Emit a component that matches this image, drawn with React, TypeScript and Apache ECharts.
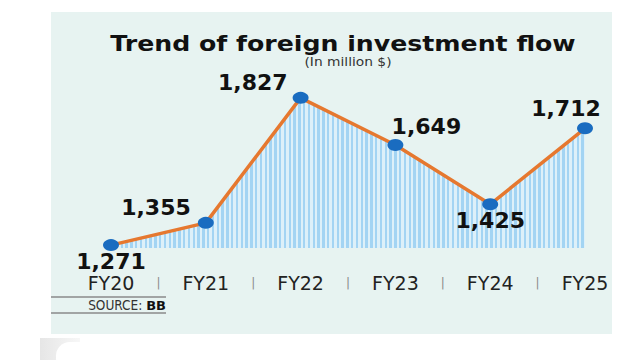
import React, { useEffect, useRef } from "react";
import * as echarts from "echarts";

const categories = ["FY20", "FY21", "FY22", "FY23", "FY24", "FY25"];
const values = [1271, 1355, 1827, 1649, 1425, 1712];
const valueLabels = ["1,271", "1,355", "1,827", "1,649", "1,425", "1,712"];

const GRID_LEFT = 111;
const GRID_RIGHT = 55;
const GRID_TOP = 52;
const GRID_BOTTOM = 112;
const Y_MIN = 1260;
const Y_MAX = 2000;

function stripeGradient() {
  const x0 = GRID_LEFT;
  const x1 = 640 - GRID_RIGHT;
  const period = 4.8;
  const w = x1 - x0;
  const stops: { offset: number; color: string }[] = [];
  const dark = "#a3d4f3";
  const light = "#ddf0f9";
  for (let x = 0; x < w; x += period) {
    const a = x / w;
    const b = Math.min((x + period / 2) / w, 1);
    const c = Math.min((x + period) / w, 1);
    stops.push({ offset: a, color: dark });
    stops.push({ offset: b, color: dark });
    stops.push({ offset: b, color: light });
    stops.push({ offset: c, color: light });
  }
  return new echarts.graphic.LinearGradient(x0, 0, x1, 0, stops, true);
}

const labelPlacement: { position: string; offset: number[] }[] = [
  { position: "bottom", offset: [0, -4] },
  { position: "left", offset: [-2, -15] },
  { position: "left", offset: [0, -15] },
  { position: "top", offset: [31, 2] },
  { position: "bottom", offset: [0, -4] },
  { position: "top", offset: [-19, 1] },
];

export default function App() {
  const ref = useRef<HTMLDivElement>(null);
  useEffect(() => {
    if (!ref.current) return;
    const chart = echarts.init(ref.current, null, { renderer: "svg" });
    const step = (640 - GRID_RIGHT - GRID_LEFT) / (categories.length - 1);
    const separators = categories.slice(0, -1).map((_, i) => ({
      type: "text",
      x: GRID_LEFT + step * (i + 0.5),
      y: 283,
      style: {
        text: "|",
        fill: "#8a8a8a",
        fontSize: 12,
        fontFamily: "DejaVu Sans",
        align: "center",
        verticalAlign: "middle",
      },
      z: 10,
    }));
    chart.setOption({
      animation: false,
      backgroundColor: "#ffffff",
      graphic: [
        {
          type: "rect",
          shape: { x: 51, y: 12, width: 561, height: 322 },
          style: { fill: "#e7f3f1" },
          z: -10,
        },
        {
          type: "rect",
          shape: { x: 40, y: 338, width: 40, height: 22 },
          style: {
            fill: new echarts.graphic.LinearGradient(0, 0, 1, 0, [
              { offset: 0, color: "#e6e6e6" },
              { offset: 1, color: "#f7f7f7" },
            ]),
          },
          z: -10,
        },
        {
          type: "rect",
          shape: { x: 56, y: 342, width: 300, height: 30, r: 14 },
          style: { fill: "#ffffff" },
          z: -9,
        },
        {
          type: "text",
          x: 343,
          y: 43,
          scaleX: 1.2,
          style: {
            text: "Trend of foreign investment flow",
            fill: "#111111",
            fontSize: 21,
            fontWeight: "bold",
            fontFamily: "DejaVu Sans",
            align: "center",
            verticalAlign: "middle",
          },
        },
        {
          type: "text",
          x: 348,
          y: 62,
          scaleX: 1.15,
          style: {
            text: "(In million $)",
            fill: "#333333",
            fontSize: 12,
            fontFamily: "DejaVu Sans",
            align: "center",
            verticalAlign: "middle",
          },
        },
        ...separators,
        {
          type: "line",
          shape: { x1: 51, y1: 297, x2: 166, y2: 297 },
          style: { stroke: "#8a8a8a", lineWidth: 1.5 },
        },
        {
          type: "line",
          shape: { x1: 51, y1: 313, x2: 166, y2: 313 },
          style: { stroke: "#8a8a8a", lineWidth: 1.5 },
        },
        {
          type: "text",
          x: 166,
          y: 305,
          style: {
            text: "{a|SOURCE: }{b|BB}",
            align: "right",
            verticalAlign: "middle",
            rich: {
              a: {
                fontSize: 13.5,
                fill: "#333333",
                fontFamily: "Liberation Sans Narrow, DejaVu Sans Condensed, sans-serif",
              },
              b: {
                fontSize: 13,
                fontWeight: "bold",
                fill: "#111111",
                fontFamily: "DejaVu Sans, sans-serif",
              },
            },
          },
        },
      ],
      grid: {
        left: GRID_LEFT,
        right: GRID_RIGHT,
        top: GRID_TOP,
        bottom: GRID_BOTTOM,
        containLabel: false,
      },
      xAxis: {
        type: "category",
        data: categories,
        boundaryGap: false,
        axisLine: { show: false },
        axisTick: { show: false },
        splitLine: { show: false },
        axisLabel: {
          margin: 26,
          fontSize: 19,
          lineHeight: 18,
          color: "#222222",
          fontFamily: "DejaVu Sans",
          interval: 0,
        },
      },
      yAxis: {
        type: "value",
        min: Y_MIN,
        max: Y_MAX,
        show: false,
        splitLine: { show: false },
      },
      series: [
        {
          type: "line",
          data: values.map((v, i) => ({
            value: v,
            label: {
              show: true,
              position: labelPlacement[i].position,
              offset: labelPlacement[i].offset,
              distance: 5,
              formatter: valueLabels[i],
              fontSize: 22,
              lineHeight: 19,
              fontWeight: "bold",
              fontFamily: "DejaVu Sans",
              color: "#111111",
            },
          })),
          symbol: "circle",
          symbolSize: [16, 12],
          itemStyle: { color: "#1a6cc0" },
          lineStyle: { color: "#e6782f", width: 3.5 },
          areaStyle: { color: stripeGradient(), opacity: 1, origin: "start" },
          z: 5,
        },
      ],
    });
    return () => chart.dispose();
  }, []);
  return (
    <div
      ref={ref}
      style={{ position: "fixed", left: 0, top: 0, width: 640, height: 360 }}
    />
  );
}
